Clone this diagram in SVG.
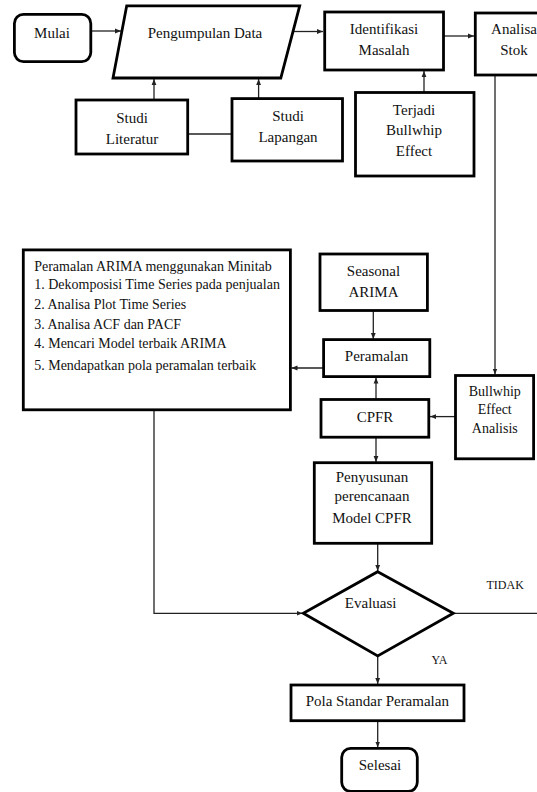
<svg xmlns="http://www.w3.org/2000/svg" width="537" height="792" viewBox="0 0 537 792">
<style>
.box{fill:#fff;stroke:#000;stroke-width:2.8}
.ln{fill:none;stroke:#222;stroke-width:1.3}
.t{font-family:"Liberation Serif","Times New Roman",serif;font-size:15px;fill:#111;text-anchor:middle}
.s{font-size:14px}
.l{text-anchor:start}
.lbl{font-size:12px;text-anchor:start}
</style>
<defs>
<marker id="ah" viewBox="0 0 10 10" refX="10" refY="5" markerWidth="6" markerHeight="6" markerUnits="userSpaceOnUse" orient="auto">
<path d="M0,1 L10,5 L0,9 Z" fill="#222"/>
</marker>
</defs>
<rect width="537" height="792" fill="#fff"/>
<g id="connectors">
<line class="ln" x1="91" y1="31" x2="121" y2="31" marker-end="url(#ah)"/>
<line class="ln" x1="294" y1="31.5" x2="323" y2="31.5" marker-end="url(#ah)"/>
<line class="ln" x1="444" y1="36" x2="474" y2="36" marker-end="url(#ah)"/>
<line class="ln" x1="154" y1="100" x2="154" y2="79" marker-end="url(#ah)"/>
<line class="ln" x1="258.6" y1="98.6" x2="258.6" y2="79" marker-end="url(#ah)"/>
<line class="ln" x1="188" y1="134" x2="232" y2="134"/>
<line class="ln" x1="424" y1="92.5" x2="424" y2="71" marker-end="url(#ah)"/>
<line class="ln" x1="495" y1="75" x2="495" y2="374.5" marker-end="url(#ah)"/>
<line class="ln" x1="373.3" y1="310.5" x2="373.3" y2="339" marker-end="url(#ah)"/>
<line class="ln" x1="323.6" y1="368" x2="291.5" y2="368" marker-end="url(#ah)"/>
<line class="ln" x1="376" y1="399.5" x2="376" y2="377.5" marker-end="url(#ah)"/>
<line class="ln" x1="455.5" y1="416.6" x2="430" y2="416.6" marker-end="url(#ah)"/>
<line class="ln" x1="376" y1="437.2" x2="376" y2="462" marker-end="url(#ah)"/>
<line class="ln" x1="377.7" y1="543.3" x2="377.7" y2="571" marker-end="url(#ah)"/>
<polyline class="ln" points="154,409.8 154,613.3 302.5,613.3" marker-end="url(#ah)"/>
<line class="ln" x1="453.3" y1="613.3" x2="537" y2="613.3"/>
<line class="ln" x1="377.7" y1="656" x2="377.7" y2="684" marker-end="url(#ah)"/>
<line class="ln" x1="377.7" y1="720.7" x2="377.7" y2="747.5" marker-end="url(#ah)"/>
<text class="t lbl" x="486.5" y="589">TIDAK</text>
<text class="t lbl" x="431.5" y="664">YA</text>
</g>
<g id="mulai">
<rect class="box" x="14.4" y="14.4" width="76.4" height="47.2" rx="9"/>
<text class="t" x="52" y="37.5">Mulai</text>
</g>
<g id="pengumpulan-data">
<polygon class="box" points="126.7,5.8 299.7,5.8 280.8,78 113,78"/>
<text class="t" x="205" y="37.5">Pengumpulan Data</text>
</g>
<g id="identifikasi-masalah">
<rect class="box" x="324.7" y="12" width="118.8" height="58"/>
<text class="t" x="384" y="34">Identifikasi</text>
<text class="t" x="384" y="54.7">Masalah</text>
</g>
<g id="analisa-stok">
<rect class="box" x="475.3" y="13" width="70" height="62"/>
<text class="t" x="514" y="34">Analisa</text>
<text class="t" x="514" y="55">Stok</text>
</g>
<g id="studi-literatur">
<rect class="box" x="76" y="100" width="111.7" height="54"/>
<text class="t" x="132" y="123">Studi</text>
<text class="t" x="132" y="143.7">Literatur</text>
</g>
<g id="studi-lapangan">
<rect class="box" x="232" y="98.6" width="110.5" height="62.4"/>
<text class="t" x="288" y="121">Studi</text>
<text class="t" x="288" y="142">Lapangan</text>
</g>
<g id="terjadi-bullwhip">
<rect class="box" x="355.5" y="92.5" width="118.5" height="83.5"/>
<text class="t" x="414" y="114.6">Terjadi</text>
<text class="t" x="414" y="135">Bullwhip</text>
<text class="t" x="414" y="155.7">Effect</text>
</g>
<g id="peramalan-arima">
<rect class="box" x="23.3" y="249.9" width="267.1" height="159.9"/>
<text class="t s l" x="34.2" y="270.5">Peramalan ARIMA menggunakan Minitab</text>
<text class="t s l" x="34.2" y="289.3">1. Dekomposisi Time Series pada penjualan</text>
<text class="t s l" x="34.2" y="309.2">2. Analisa Plot Time Series</text>
<text class="t s l" x="34.2" y="328.5">3. Analisa ACF dan PACF</text>
<text class="t s l" x="34.2" y="348.2">4. Mencari Model terbaik ARIMA</text>
<text class="t s l" x="34.2" y="369.8">5. Mendapatkan pola peramalan terbaik</text>
</g>
<g id="seasonal-arima">
<rect class="box" x="320" y="254" width="107.4" height="56.5"/>
<text class="t" x="373.5" y="276">Seasonal</text>
<text class="t" x="373.5" y="296.6">ARIMA</text>
</g>
<g id="peramalan">
<rect class="box" x="323.6" y="339.6" width="106.2" height="37"/>
<text class="t" x="376.5" y="361">Peramalan</text>
</g>
<g id="cpfr">
<rect class="box" x="321" y="399.5" width="107.8" height="37.7"/>
<text class="t" x="375" y="421.6">CPFR</text>
</g>
<g id="bullwhip-analisis">
<rect class="box" x="455.5" y="375.5" width="78.1" height="83.3"/>
<text class="t s" x="494.8" y="395.5">Bullwhip</text>
<text class="t s" x="494.8" y="414.3">Effect</text>
<text class="t s" x="494.8" y="433">Analisis</text>
</g>
<g id="penyusunan">
<rect class="box" x="314.3" y="462.7" width="117.4" height="80.6"/>
<text class="t" x="372" y="481.7">Penyusunan</text>
<text class="t" x="372" y="501">perencanaan</text>
<text class="t" x="372" y="522.7">Model CPFR</text>
</g>
<g id="evaluasi">
<polygon class="box" points="377.7,571.7 453.3,613.3 377.7,656 303.3,613.3"/>
<text class="t" x="370.7" y="608.3">Evaluasi</text>
</g>
<g id="pola-standar">
<rect class="box" x="291" y="685" width="173" height="35.7"/>
<text class="t" x="377.3" y="705.7">Pola Standar Peramalan</text>
</g>
<g id="selesai">
<rect class="box" x="341.7" y="748.3" width="75.6" height="43" rx="9"/>
<text class="t" x="380" y="770">Selesai</text>
</g>
</svg>
